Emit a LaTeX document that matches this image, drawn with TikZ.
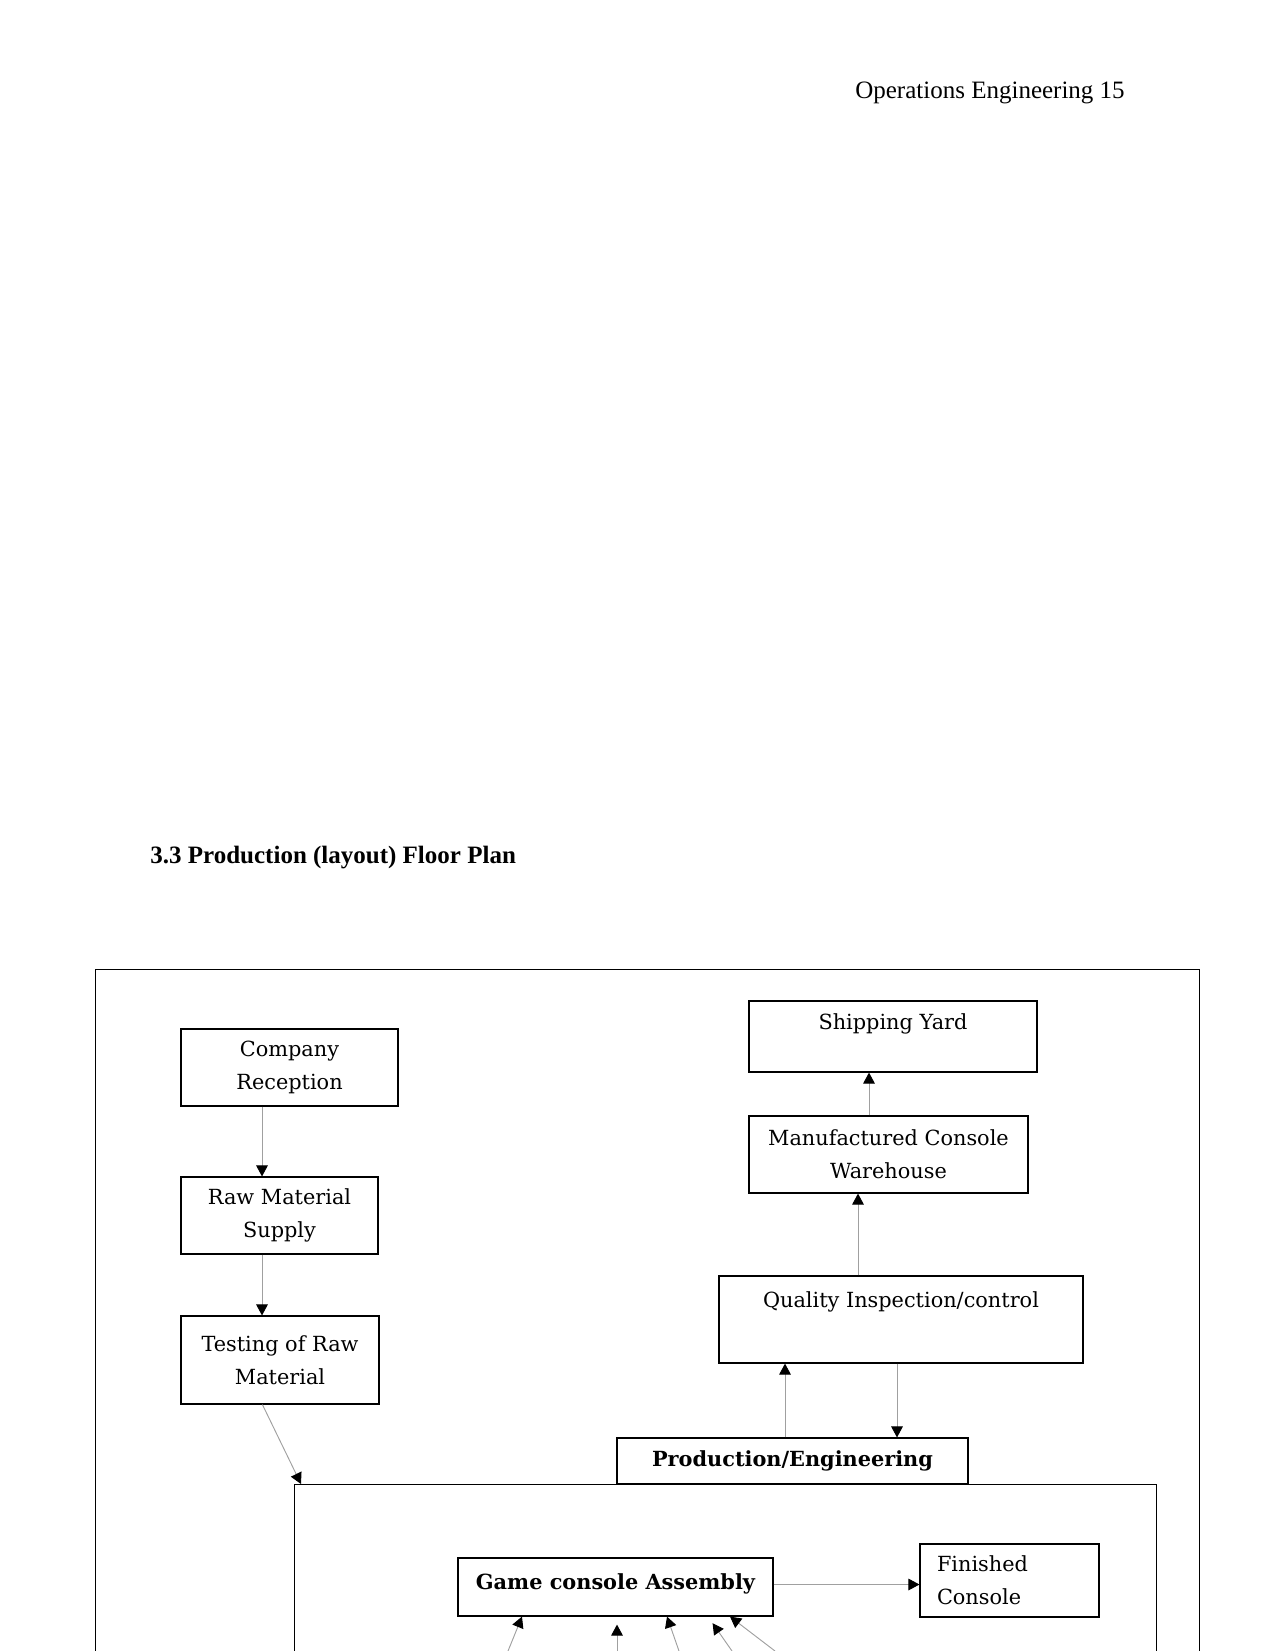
\documentclass[tikz,border=0pt]{standalone}
\usepackage{fontspec}
\setmainfont{Liberation Serif}
\newfontfamily\boxfont{DejaVu Serif}
\usepackage{tikz}
\usetikzlibrary{arrows.meta, positioning, calc}
\definecolor{flowgray}{HTML}{A0A0A0}
\newcommand{\pu}{0.48pt}

\tikzset{
    roombox/.style={draw=black, line width=0.55pt, rectangle, inner sep=0pt,
        align=center, font=\boxfont\fontsize{10}{15.8}\selectfont},
    flow/.style={draw=flowgray, line width=0.45pt,
        -{Triangle[black, length=5.3pt, width=5.6pt]}},
    frame/.style={draw=black, line width=0.6pt}
}

\begin{document}
\begin{tikzpicture}[x=0.48pt, y=-0.48pt]
    \useasboundingbox (0,0) rectangle (1275,1651);

    % page header and heading
    \node[font=\fontsize{12}{14}\selectfont] (pagehead) at (990,93) {Operations Engineering 15};
    \node[font=\fontsize{12}{14}\selectfont\bfseries, anchor=west, inner sep=0pt] (heading) at (150,858)
        {3.3 Production (layout) Floor Plan};

    % outer floor and production hall
    \node[frame, minimum width=1104*\pu, minimum height=760*\pu, anchor=north west]
        (floor) at (95,969) {};
    \node[frame, minimum width=862*\pu, minimum height=260*\pu, anchor=north west]
        (hall) at (294,1484) {};

    % left column
    \node[roombox, minimum width=217*\pu, minimum height=77*\pu] (reception) at (289.5,1067.5)
        {Company\\Reception};
    \node[roombox, minimum width=197*\pu, minimum height=77*\pu] (rawsupply) at (279.5,1215.5)
        {Raw Material\\Supply};
    \node[roombox, minimum width=198*\pu, minimum height=88*\pu] (rawtest) at (280,1360)
        {Testing of Raw\\Material};

    % right column
    \node[roombox, minimum width=288*\pu, minimum height=71*\pu, text depth=14pt] (shipyard)
        at (893,1036.5) {Shipping Yard};
    \node[roombox, minimum width=279*\pu, minimum height=77*\pu] (warehouse) at (888.5,1154.5)
        {Manufactured Console\\Warehouse};
    \node[roombox, minimum width=364*\pu, minimum height=87*\pu, text depth=19pt] (quality)
        at (901,1319.5) {Quality Inspection/control};
    \node[roombox, minimum width=351*\pu, minimum height=46*\pu, font=\boxfont\bfseries\fontsize{10}{12}\selectfont]
        (prodeng) at (792.5,1461) {Production/Engineering};

    % inside the hall
    \node[roombox, minimum width=315*\pu, minimum height=58*\pu, text depth=5pt,
        font=\boxfont\bfseries\fontsize{10}{12}\selectfont] (assembly) at (615.5,1587)
        {Game console Assembly};
    \node[roombox, minimum width=179*\pu, minimum height=73*\pu, text width=145*\pu,
        align=left, inner xsep=17*\pu] (finished) at (1009.5,1580.5) {Finished\\Console};

    % connectors
    \coordinate (leftline) at (262,0);
    \draw[flow] (reception.south -| leftline) -- (rawsupply.north -| leftline);
    \draw[flow] (rawsupply.south -| leftline) -- (rawtest.north -| leftline);
    \draw[flow] ($(rawtest.south west)+(82,0)$) -- ($(hall.north west)+(7,0)$);

    \coordinate (upline) at (785,0);
    \coordinate (downline) at (897,0);
    \draw[flow] (prodeng.north -| upline) -- (quality.south -| upline);
    \draw[flow] (quality.south -| downline) -- (prodeng.north -| downline);
    \coordinate (whline) at (858,0);
    \draw[flow] (quality.north -| whline) -- (warehouse.south -| whline);
    \coordinate (shipline) at (869,0);
    \draw[flow] (warehouse.north -| shipline) -- (shipyard.south -| shipline);

    \draw[flow] (assembly.east |- finished.west) ++(0,4) -- ($(finished.west)+(0,4)$);

    % feeds into assembly from below
    \foreach \tail/\head/\gap [count=\i] in {508/522/0, 617/617/8, 679/667/0, 732/708/8, 775/730/0}{
        \coordinate (feed\i) at (\tail,1651);
        \coordinate (feedhead\i) at (\head,0);
        \draw[flow, shorten >=\gap*\pu] (feed\i) -- (assembly.south -| feedhead\i);
    }
\end{tikzpicture}
\end{document}
